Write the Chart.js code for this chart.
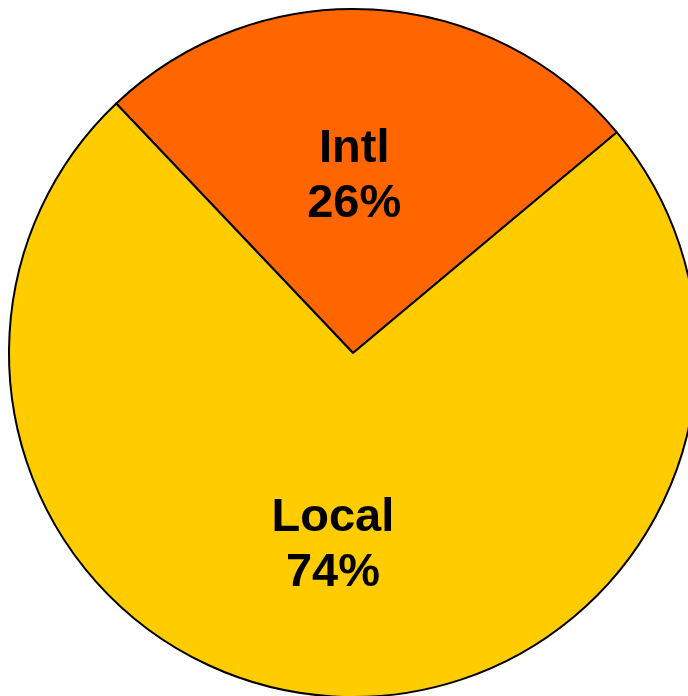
<!DOCTYPE html>
<html>
<head>
<meta charset="utf-8">
<script src="https://cdn.jsdelivr.net/npm/chart.js@4/dist/chart.umd.min.js"></script>
<style>
  html, body { margin: 0; padding: 0; background: #fff; overflow: hidden; }
  #wrap { position: absolute; left: 0; top: 0; width: 706px; height: 706px; }
</style>
</head>
<body>
<div id="wrap"><canvas id="grafico" width="706" height="706"></canvas></div>
<script>
  // datos del grafico
  const categorias = ['Intl', 'Local'];
  const valores = [26, 74];
  const porcentajes = ['26%', '74%'];
  const colores = ['#FF6600', '#FFCC00'];

  // etiquetas dentro de cada porcion (nombre + porcentaje)
  const etiquetasPlugin = {
    id: 'etiquetas',
    afterDatasetsDraw(chart, args, opts) {
      const ctx = chart.ctx;
      const arcos = chart.getDatasetMeta(0).data;
      ctx.save();
      ctx.fillStyle = '#000';
      ctx.font = 'bold 47px "Liberation Sans", Arial, sans-serif';
      ctx.textAlign = 'center';
      ctx.textBaseline = 'middle';
      arcos.forEach((arc, i) => {
        const p = arc.getProps(['x', 'y', 'startAngle', 'endAngle', 'outerRadius'], true);
        const medio = (p.startAngle + p.endAngle) / 2;
        const d = p.outerRadius * opts.distancia[i];
        const cx = p.x + Math.cos(medio) * d + opts.desplazX;
        const cy = p.y + Math.sin(medio) * d;
        ctx.fillText(categorias[i], cx, cy - 27);
        ctx.fillText(porcentajes[i], cx, cy + 28);
      });
      ctx.restore();
    }
  };

  new Chart(document.getElementById('grafico'), {
    type: 'pie',
    data: {
      labels: categorias,
      datasets: [{
        data: valores,
        backgroundColor: colores,
        borderColor: '#000000',
        borderWidth: 2,
        borderAlign: 'center'
      }]
    },
    options: {
      responsive: false,
      devicePixelRatio: 1,
      animation: false,
      rotation: -43.5,
      radius: 344,
      layout: { padding: 0 },
      plugins: {
        legend: { display: false },
        tooltip: { enabled: false },
        etiquetas: { distancia: [0.515, 0.56], desplazX: -9 }
      }
    },
    plugins: [etiquetasPlugin]
  });
</script>
</body>
</html>
